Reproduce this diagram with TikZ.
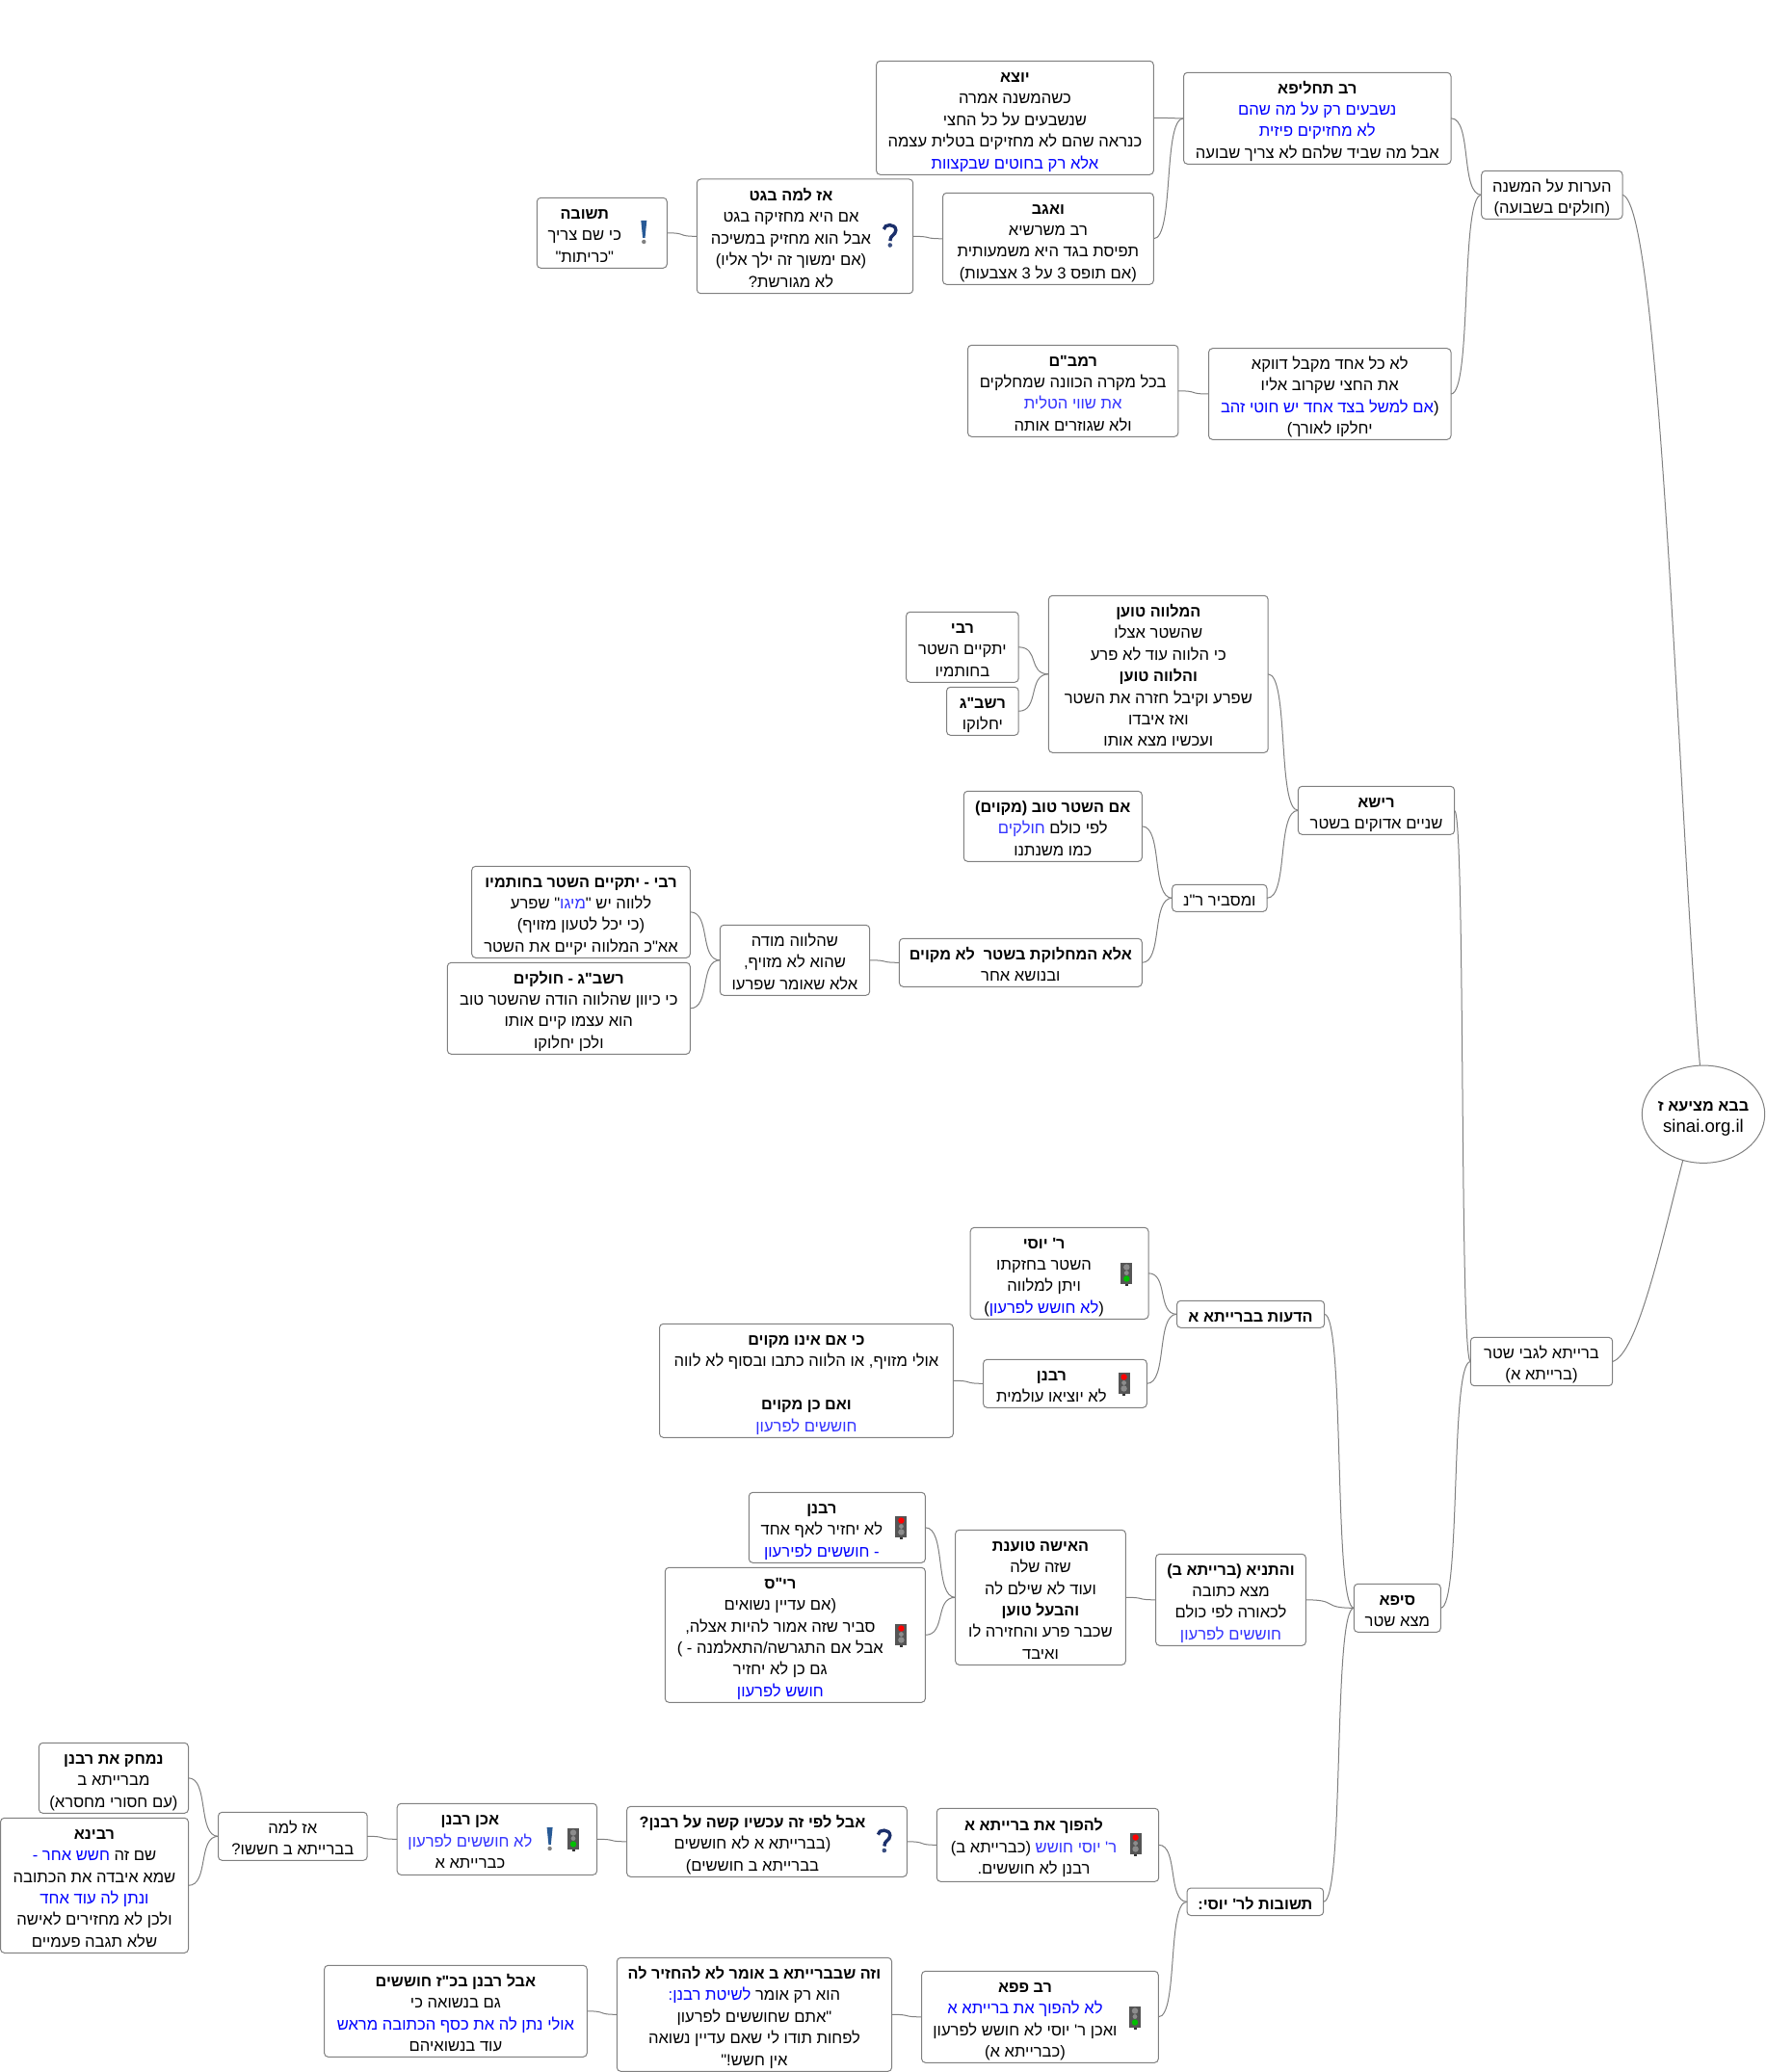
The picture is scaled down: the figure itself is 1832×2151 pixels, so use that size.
\documentclass[tikz,border=0pt]{standalone}
\usepackage{fontspec}
\usetikzlibrary{calc,shapes.geometric}
\TeXXeTstate=1
\newfontfamily\hebf[Script=Hebrew]{Liberation Sans}
\definecolor{hblue}{HTML}{0000FF}
\definecolor{hbluel}{HTML}{3333FF}
\definecolor{edgegray}{HTML}{808080}
\definecolor{lampbody}{HTML}{555555}
\newcommand\rl[1]{\beginR#1\endR}
\newcommand\hd[1]{{\fontsize{16.2}{22.4}\selectfont\bfseries\beginR#1\endR}}
\newcommand\bl[1]{\hbox{{\color{hblue}\beginR#1\endR}}}
\newcommand\bll[1]{\hbox{{\color{hbluel}\beginR#1\endR}}}
\newcommand\tb[1]{\raisebox{-3.5pt}[\height][\depth]{\begin{tabular}{@{}c@{}}#1\end{tabular}}}
\newcommand\pad[2]{\tb{#2}\rule{#1pt}{0pt}}
\tikzset{
  mmbox/.style={draw=edgegray,fill=white,rounded corners=4pt,line width=1pt,inner sep=0pt,outer sep=0pt,
    font=\hebf\fontsize{16.6}{22.4}\selectfont,text=black},
  wire/.style={draw=edgegray,line width=1pt},
  rootnode/.style={ellipse,draw=edgegray,fill=white,line width=1pt,inner sep=0pt,outer sep=0pt,
    font=\hebf\fontsize{16.6}{22.4}\selectfont,text=black}
}
\newcommand\nbox[6]{\node[mmbox,minimum width={(#4-#2)*1pt},minimum height={(#5-#3)*1pt}] (#1) at ({(#2+#4)/2},{(#3+#5)/2}) {#6};}
\newcommand\conn[2]{\draw[wire] let \p1=(#1.east),\p2=(#2.west),\n1={0.7*(\x2-\x1)} in (\p1) .. controls +(\n1,0) and ($(\p2)+(-\n1,0)$) .. (\p2);}
% traffic light: #1 x, #2 y, #3 top colour, #4 bottom colour
\newcommand\lamp[4]{\begin{scope}[shift={(#1,#2)}]
  \fill[black!80] (-1.5,10) rectangle (1.5,12.5);
  \fill[lampbody] (-6,-11.5) rectangle (6,10.5);
  \fill[#3] (0,-6.5) circle (3.2);
  \fill[black!45] (0,-0.5) circle (2.4);
  \fill[#4] (0,5.5) circle (3.2);
\end{scope}}
\newcommand\qmark[2]{\begin{scope}[shift={(#1,#2)}]
  \draw[color={rgb,255:red,27;green,47;blue,107},line width=3.4pt] (-6,-6.5) .. controls (-5.5,-12.5) and (6.5,-12.5) .. (6.5,-5.5) .. controls (6.5,-0.5) and (0.5,-0.5) .. (0.5,5.5);
  \fill[color={rgb,255:red,60;green,80;blue,130}] (0.5,10) circle (2.3);
\end{scope}}
\newcommand\emark[2]{\begin{scope}[shift={(#1,#2)}]
  \fill[color={rgb,255:red,40;green,90;blue,150}] (-3,-12) -- (3,-12) -- (1.2,6) -- (-1.2,6) -- cycle;
  \fill[gray] (0,10) circle (2.2);
\end{scope}}
\begin{document}
\begin{tikzpicture}[x=1pt,y=-1pt]
\useasboundingbox (0,0) rectangle (1832,2151);
\node[rootnode,minimum width=127.4pt,minimum height=101.3pt] (root) at (1768,1156.7)
  {\makebox[0pt]{\tb{\hd{בבא מציעא ז}\\{\fontsize{18.6}{22.4}\selectfont sinai.org.il}}}};

\nbox{heorot}{1537.7}{177.3}{1684}{227.3}{\tb{\rl{הערות על המשנה}\\\rl{(חולקים בשבועה)}}}
\nbox{ragtah}{1228.5}{75.3}{1506}{170.3}{\tb{\hd{רב תחליפא}\\\bl{נשבעים רק על מה שהם}\\\bl{לא מחזיקים פיזית}\\\rl{אבל מה שביד שלהם לא צריך שבועה}}}
\nbox{lokol}{1254.5}{361.7}{1506}{456.3}{\tb{\rl{לא כל אחד מקבל דווקא}\\\rl{את החצי שקרוב אליו}\\\bl{אם למשל בצד אחד יש חוטי זהב}\rl{(}\\\rl{יחלקו לאורך)}}}
\nbox{yotze}{909.6}{63.3}{1197.3}{181.3}{\tb{\hd{יוצא}\\\rl{כשהמשנה אמרה}\\\rl{שנשבעים על כל החצי}\\\rl{כנראה שהם לא מחזיקים בטלית עצמה}\\\bl{אלא רק בחוטים שבקצוות}}}
\nbox{veagav}{978.5}{200.3}{1197.3}{295.3}{\tb{\hd{ואגב}\\\rl{רב משרשיא}\\\rl{תפיסת בגד היא משמעותית}\\\rl{(אם תופס 3 על 3 אצבעות)}}}
\nbox{azlama}{723.3}{186}{947.7}{304.7}{\pad{29}{\hd{אז למה בגט}\\\rl{אם היא מחזיקה בגט}\\\rl{אבל הוא מחזיק במשיכה}\\\rl{(אם ימשוך זה ילך אליו)}\\\rl{לא מגורשת?}}}
\nbox{teshuva}{557.3}{205.3}{692.3}{278.3}{\pad{36}{\hd{תשובה}\\\rl{כי שם צריך}\\\rl{"כריתות"}}}
\nbox{rambam}{1004.5}{358.3}{1222.9}{453.3}{\tb{\hd{רמב"ם}\\\rl{בכל מקרה הכוונה שמחלקים}\\\bll{את שווי הטלית}\\\rl{ולא שגוזרים אותה}}}

\nbox{rabi}{940.6}{635.3}{1057.2}{708.3}{\tb{\hd{רבי}\\\rl{יתקיים השטר}\\\rl{בחותמיו}}}
\nbox{rashbag}{982.5}{713.3}{1057.2}{763.3}{\tb{\hd{רשב"ג}\\\rl{יחלוקו}}}
\nbox{malve}{1088.4}{618.3}{1316.2}{781.3}{\tb{\hd{המלווה טוען}\\\rl{שהשטר אצלו}\\\rl{כי הלווה עוד לא פרע}\\\hd{והלווה טוען}\\\rl{שפרע וקיבל חזרה את השטר}\\\rl{ואז איבדו}\\\rl{ועכשיו מצא אותו}}}
\nbox{reisha}{1347.4}{816.3}{1509.6}{866.3}{\tb{\hd{רישא}\\\rl{שניים אדוקים בשטר}}}
\nbox{tov}{1000.3}{821.3}{1185.3}{894.3}{\tb{\hd{אם השטר טוב (מקוים)}\\\bll{חולקים}\ \rl{לפי כולם}\\\rl{כמו משנתנו}}}
\nbox{umasbir}{1216.6}{918.3}{1315}{946.3}{\tb{\rl{ומסביר ר"נ}}}
\nbox{ela}{933.4}{974.3}{1185.3}{1024.3}{\tb{\hd{אלא המחלוקת בשטר\ \ לא מקוים}\\\rl{ובנושא אחר}}}
\nbox{rabitwo}{489.7}{899.3}{716.3}{994.3}{\tb{\hd{רבי - יתקיים השטר בחותמיו}\\\rl{" שפרע}\bll{מיגו}\rl{ללווה יש "}\\\rl{(כי יכל לטעון מזויף)}\\\rl{אא"כ המלווה יקיים את השטר}}}
\nbox{rashbagtwo}{464.3}{999.3}{716.3}{1094.3}{\tb{\hd{רשב"ג - חולקים}\\\rl{כי כיוון שהלווה הודה שהשטר טוב}\\\rl{הוא עצמו קיים אותו}\\\rl{ולכן יחלוקו}}}
\nbox{shehalve}{747.3}{960.3}{902.7}{1033.3}{\tb{\rl{שהלווה מודה}\\\rl{שהוא לא מזויף,}\\\rl{אלא שאומר שפרעו}}}

\nbox{beraita}{1526.3}{1388.3}{1673.7}{1438.7}{\tb{\rl{ברייתא לגבי שטר}\\\rl{(ברייתא א)}}}
\nbox{deot}{1221.5}{1350.3}{1374.6}{1378.3}{\tb{\hd{הדעות בברייתא א}}}
\nbox{yosi}{1007.2}{1274.3}{1192}{1369.3}{\pad{32}{\hd{ר' יוסי}\\\rl{השטר בחזקתו}\\\rl{ויתן למלווה}\\\rl{)}\bl{לא חושש לפרעון}\rl{(}}}
\nbox{rabanan}{1020.6}{1411.3}{1190.3}{1461.3}{\pad{28}{\hd{רבנן}\\\rl{לא יוציאו עולמית}}}
\nbox{kiim}{684.5}{1374.3}{989.4}{1492.3}{\tb{\hd{כי אם אינו מקוים}\\\rl{אולי מזויף, או הלווה כתבו ובסוף לא לווה}\\\ \\\hd{ואם כן מקוים}\\\bll{חוששים לפרעון}}}

\nbox{sifa}{1405.3}{1644.3}{1495.3}{1694.3}{\tb{\hd{סיפא}\\\rl{מצא שטר}}}
\nbox{vetanya}{1199.6}{1613.3}{1355.4}{1708.3}{\tb{\hd{והתניא (ברייתא ב)}\\\rl{מצא כתובה}\\\rl{לכאורה לפי כולם}\\\bll{חוששים לפרעון}}}
\nbox{isha}{991.6}{1588.3}{1168.4}{1728.3}{\tb{\hd{האישה טוענת}\\\rl{שזה שלה}\\\rl{ועוד לא שילם לה}\\\hd{והבעל טוען}\\\rl{שכבר פרע והחזירה לו}\\\rl{ואיבד}}}
\nbox{rabanantwo}{777.3}{1549.3}{960.4}{1622.3}{\pad{32}{\hd{רבנן}\\\rl{לא יחזיר לאף אחד}\\\bl{- חוששים לפירעון}}}
\nbox{ris}{690.3}{1627.3}{960.4}{1767.3}{\pad{31}{\hd{רי"ס}\\\rl{(אם עדיין נשואים}\\\rl{סביר שזה אמור להיות אצלה,}\\\rl{אבל אם התגרשה/התאלמנה - )}\\\rl{גם כן לא יחזיר}\\\bl{חושש לפרעון}}}

\nbox{teshuvot}{1232}{1960}{1373.7}{1988.5}{\tb{\hd{תשובות לר' יוסי:}}}
\nbox{lahafoch}{972.3}{1877.3}{1202.7}{1953.3}{\pad{29}{\hd{להפוך את ברייתא א}\\\rl{(כברייתא ב)}\ \bll{ר' יוסי חושש}\\\rl{רבנן לא חוששים.}}}
\nbox{aval}{650.6}{1875.3}{941.4}{1948.3}{\pad{30}{\hd{אבל לפי זה עכשיו קשה על רבנן?}\\\rl{(בברייתא א לא חוששים}\\\rl{בברייתא ב חוששים)}}}
\nbox{achen}{412.2}{1872.3}{619.6}{1946.3}{\pad{56}{\hd{אכן רבנן}\\\bll{לא חוששים לפרעון}\\\rl{כברייתא א}}}
\nbox{azlamatwo}{226.5}{1881.3}{381.2}{1931.3}{\tb{\rl{אז למה}\\\rl{בברייתא ב חששו?}}}
\nbox{nimhak}{40.4}{1809.3}{195.5}{1882.3}{\tb{\hd{נמחק את רבנן}\\\rl{מברייתא ב}\\\rl{(עם חסורי מחסרא)}}}
\nbox{ravina}{0.5}{1887.3}{195.5}{2027.3}{\tb{\hd{רבינא}\\\bl{חשש אחר -}\ \rl{שם זה}\\\rl{שמא איבדה את הכתובה}\\\bl{ונתן לה עוד אחד}\\\rl{ולכן לא מחזירים לאישה}\\\rl{שלא תגבה פעמיים}}}
\nbox{rabpapa}{956.6}{2046.3}{1202.3}{2141.3}{\pad{31}{\hd{רב פפא}\\\bl{לא להפוך את ברייתא א}\\\rl{ואכן ר' יוסי לא חושש לפרעון}\\\rl{(כברייתא א)}}}
\nbox{veze}{640.3}{2032.3}{925.6}{2150.3}{\tb{\hd{וזה שבברייתא ב אומר לא להחזיר לה}\\\bl{לשיטת רבנן:}\ \rl{הוא רק אומר}\\\rl{"אתם שחוששים לפרעון}\\\rl{לפחות תודו לי שאם עדיין נשואה}\\\rl{אין חשש!"}}}
\nbox{avaltwo}{336.6}{2040.3}{609.3}{2135.3}{\tb{\hd{אבל רבנן בכ"ז חוששים}\\\rl{גם בנשואה כי}\\\bl{אולי נתן לה את כסף הכתובה מראש}\\\rl{עוד בנשואיהם}}}

% connectors
\draw[wire] (heorot.east) .. controls +(40,8) and ($(root.94)+(-22,-250)$) .. (root.94);
\draw[wire] (beraita.east) .. controls +(26,-8) and ($(root.246)+(-22,85)$) .. (root.246);
\conn{ragtah}{heorot}
\conn{lokol}{heorot}
\conn{yotze}{ragtah}
\conn{veagav}{ragtah}
\conn{azlama}{veagav}
\conn{teshuva}{azlama}
\conn{rambam}{lokol}
\conn{reisha}{beraita}
\conn{sifa}{beraita}
\conn{malve}{reisha}
\conn{umasbir}{reisha}
\conn{rabi}{malve}
\conn{rashbag}{malve}
\conn{tov}{umasbir}
\conn{ela}{umasbir}
\conn{shehalve}{ela}
\conn{rabitwo}{shehalve}
\conn{rashbagtwo}{shehalve}
\conn{deot}{sifa}
\conn{vetanya}{sifa}
\conn{teshuvot}{sifa}
\conn{yosi}{deot}
\conn{rabanan}{deot}
\conn{kiim}{rabanan}
\conn{isha}{vetanya}
\conn{rabanantwo}{isha}
\conn{ris}{isha}
\conn{lahafoch}{teshuvot}
\conn{rabpapa}{teshuvot}
\conn{aval}{lahafoch}
\conn{achen}{aval}
\conn{azlamatwo}{achen}
\conn{nimhak}{azlamatwo}
\conn{ravina}{azlamatwo}
\conn{veze}{rabpapa}
\conn{avaltwo}{veze}

% icons
\lamp{1169.3}{1322}{black!45}{green!75!black}
\lamp{1166.6}{1436}{red}{black!45}
\lamp{935.4}{1585}{red}{black!45}
\lamp{935.4}{1697}{red}{black!45}
\lamp{1178.6}{1914}{red}{black!45}
\lamp{595}{1909}{black!45}{green!75!black}
\lamp{1178}{2094}{black!45}{green!75!black}
\emark{570.6}{1909}
\emark{668.3}{241}
\qmark{917.3}{1911}
\qmark{923.3}{244.5}
\end{tikzpicture}
\end{document}
